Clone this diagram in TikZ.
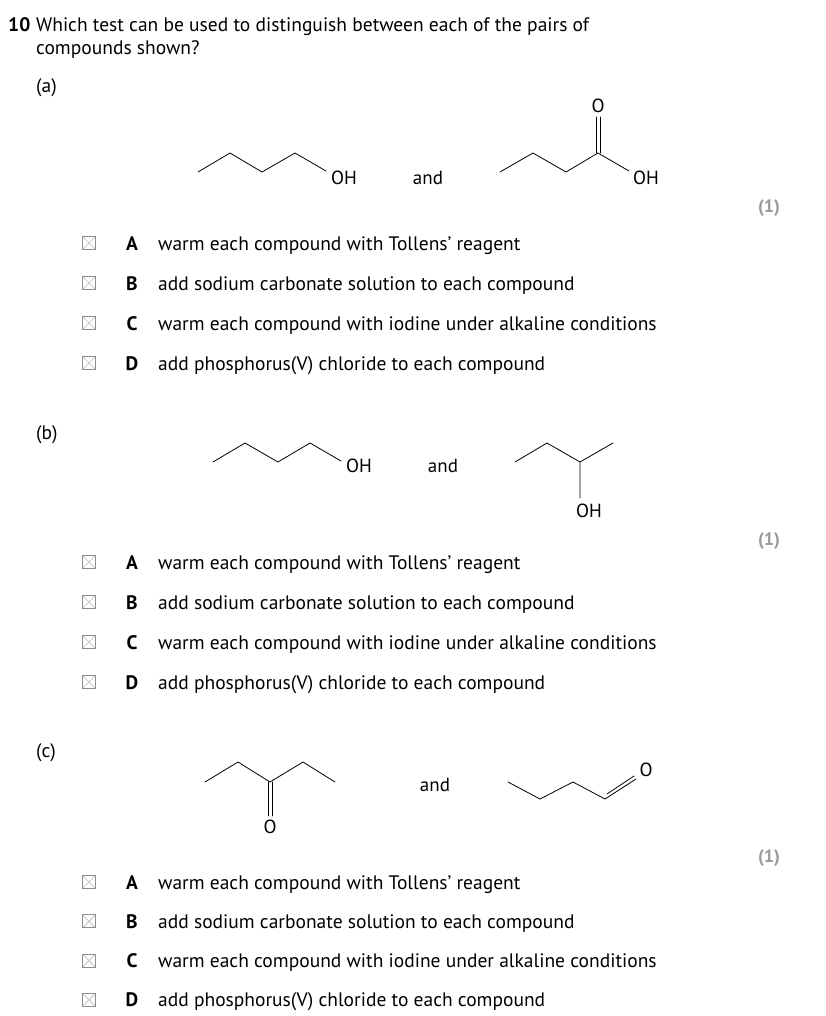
\documentclass[tikz,border=0pt]{standalone}
\usepackage{fontspec}
\setmainfont{PT Sans}
\begin{document}
\begin{tikzpicture}[x=1pt,y=-1pt,
  txt/.style={anchor=base west,inner sep=0pt,font=\fontsize{19.5}{23}\selectfont},
  lbl/.style={inner sep=0pt,font=\fontsize{19}{22}\selectfont},
  letter/.style={anchor=base,inner sep=0pt,font=\fontsize{19.5}{23}\selectfont\bfseries},
  marklbl/.style={anchor=base,inner sep=0pt,font=\fontsize{18}{21}\selectfont\bfseries,text=gray!80},
  bond/.style={line width=0.8pt,line cap=round,line join=round},
  chk/.style={draw=gray!90,line width=0.9pt,minimum size=13pt,inner sep=0pt,
    path picture={\draw[gray!40,line width=1pt] (path picture bounding box.south west)--(path picture bounding box.north east)
      (path picture bounding box.north west)--(path picture bounding box.south east);}}]
\useasboundingbox (0,0) rectangle (826,1016);
\fill[white] (0,0) rectangle (826,1016);
% title
\node[txt,font=\fontsize{19.5}{23}\selectfont\bfseries] (qn) at (8,32) {10};
\node[txt] (q1) at (36,32) {Which test can be used to distinguish between each of the pairs of};
\node[txt] (q2) at (36,55) {compounds shown?};
% options generator
\newcommand{\opts}[2]{%
  \foreach \L/\T [count=\i from 0] in {A/{warm each compound with Tollens’ reagent},B/{add sodium carbonate solution to each compound},C/{warm each compound with iodine under alkaline conditions},D/{add phosphorus(V) chloride to each compound}}{%
    \pgfmathsetmacro{\yy}{#1+\i*#2}
    \node[chk] (box#1\L) at (89,\yy-7) {};
    \node[letter] (let#1\L) at (132,\yy) {\L};
    \node[txt] (opt#1\L) at (158,\yy) {\T};
  }}
% ---------- (a)
\node[txt] (pa) at (36,93) {(a)};
\coordinate (a1) at (198,172); \coordinate (a2) at (230,153); \coordinate (a3) at (262,172); \coordinate (a4) at (295,153); \coordinate (a5) at (326,171);
\node[lbl] (aOH) at (344,178) {OH};
\draw[bond] (a1)--(a2)--(a3)--(a4)--(a5);
\node[lbl] (aand) at (428,178) {and};
\coordinate (b1) at (500,172); \coordinate (b2) at (533,153); \coordinate (b3) at (566,172); \coordinate (b4) at (598,153); \coordinate (b5) at (629,171);
\node[lbl] (bO) at (598,106) {O};
\node[lbl] (bOH) at (646,178) {OH};
\draw[bond] (b1)--(b2)--(b3)--(b4)--(b5);
\draw[bond] ([xshift=-2]b4)--([xshift=-2]598,117) ([xshift=2]b4)--([xshift=2]598,117);
\node[marklbl] (ma) at (769,213) {(1)};
\opts{250}{40}
% ---------- (b)
\node[txt] (pb) at (36,439) {(b)};
\coordinate (c1) at (213,462); \coordinate (c2) at (245,443); \coordinate (c3) at (278,462); \coordinate (c4) at (310,443); \coordinate (c5) at (341,461);
\node[lbl] (cOH) at (359,466) {OH};
\draw[bond] (c1)--(c2)--(c3)--(c4)--(c5);
\node[lbl] (band) at (443,466) {and};
\coordinate (d1) at (515,462); \coordinate (d2) at (547,443); \coordinate (d3) at (580,462); \coordinate (d4) at (613,443); \coordinate (d5) at (580,498);
\node[lbl] (dOH) at (589,511) {OH};
\draw[bond] (d1)--(d2)--(d3)--(d4) (d3)--(d5);
\node[marklbl] (mb) at (769,545) {(1)};
\opts{569}{40}
% ---------- (c)
\node[txt] (pc) at (36,757) {(c)};
\coordinate (e1) at (205,782); \coordinate (e2) at (238,762); \coordinate (e3) at (270,782); \coordinate (e4) at (303,762); \coordinate (e5) at (335,782);
\node[lbl] (eO) at (270,827) {O};
\draw[bond] (e1)--(e2)--(e3)--(e4)--(e5);
\draw[bond] ([xshift=-2]e3)--(268,816) ([xshift=2]e3)--(272,816);
\node[lbl] (cand) at (435,785) {and};
\coordinate (f1) at (508,782); \coordinate (f2) at (540,799); \coordinate (f3) at (573,782); \coordinate (f4) at (605,799); \coordinate (f5) at (636,779);
\node[lbl] (fO) at (646,770) {O};
\draw[bond] (f1)--(f2)--(f3)--(f4)--(f5);
\draw[bond] (607,794)--(634,776);
\node[marklbl] (mc) at (769,862) {(1)};
\opts{889}{39.3}
\end{tikzpicture}
\end{document}
